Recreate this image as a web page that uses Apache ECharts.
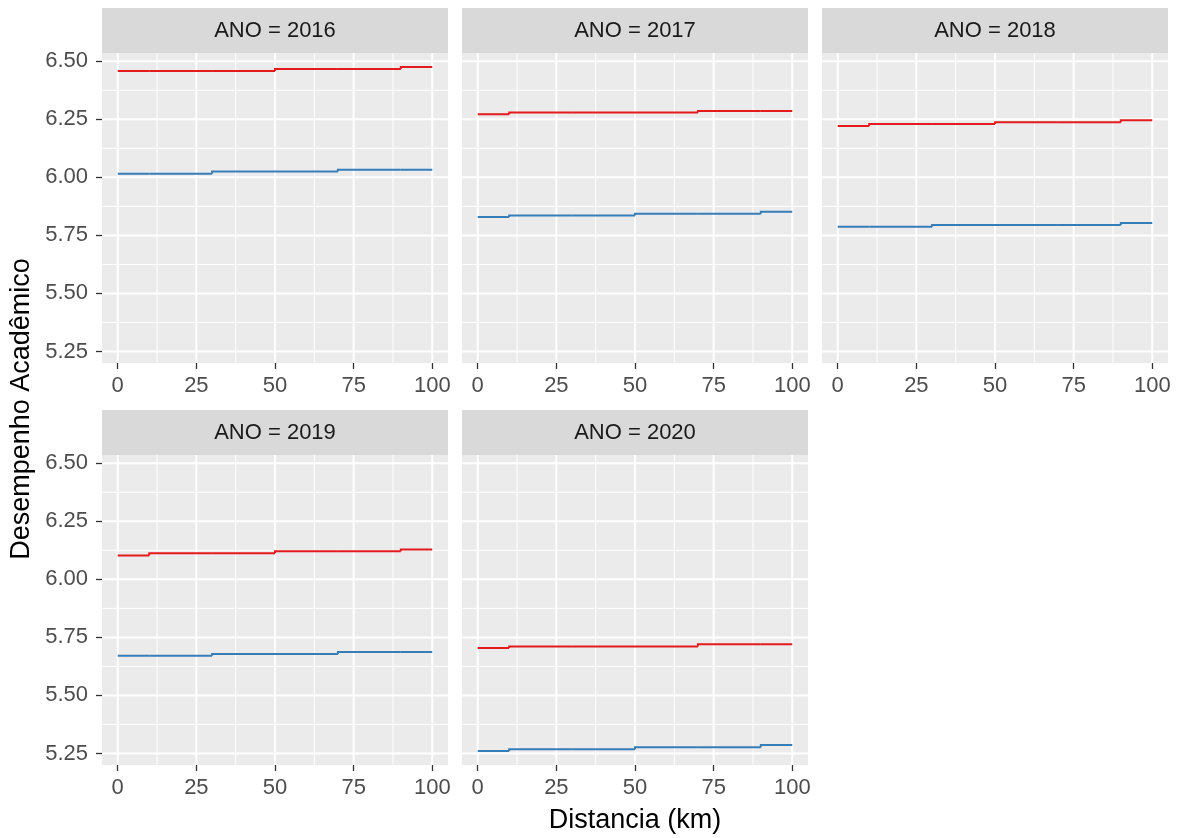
<!DOCTYPE html>
<html>
<head>
<meta charset="utf-8">
<script src="https://cdn.jsdelivr.net/npm/echarts@6/dist/echarts.min.js"></script>
<style>
  html, body { margin: 0; padding: 0; background: #ffffff; }
  #chart { width: 1181px; height: 838px; }
</style>
</head>
<body>
<div id="chart"></div>
<script>
// ---- data ----
const years = ['2016', '2017', '2018', '2019', '2020'];
// distance breaks (km); each group holds one value per band between consecutive breaks
const stepBreaks = [0, 10, 30, 50, 70, 90, 100];
const red2016  = [6.458, 6.458, 6.458, 6.467, 6.467, 6.475];
const blue2016 = [6.016, 6.016, 6.025, 6.025, 6.033, 6.033];
const red2017  = [6.272, 6.279, 6.279, 6.279, 6.286, 6.286];
const blue2017 = [5.829, 5.836, 5.836, 5.843, 5.843, 5.852];
const red2018  = [6.221, 6.230, 6.230, 6.237, 6.237, 6.246];
const blue2018 = [5.787, 5.787, 5.795, 5.795, 5.795, 5.803];
const red2019  = [6.103, 6.113, 6.113, 6.121, 6.121, 6.129];
const blue2019 = [5.671, 5.671, 5.678, 5.678, 5.687, 5.687];
const red2020  = [5.704, 5.711, 5.711, 5.711, 5.720, 5.720];
const blue2020 = [5.261, 5.268, 5.268, 5.277, 5.277, 5.286];
const xTicks = [0, 25, 50, 75, 100];
const yTicks = [5.25, 5.50, 5.75, 6.00, 6.25, 6.50];

const redByYear  = [red2016, red2017, red2018, red2019, red2020];
const blueByYear = [blue2016, blue2017, blue2018, blue2019, blue2020];

// ---- layout ----
const panelLeft = [102, 462, 822, 102, 462];
const panelTop  = [53, 53, 53, 455, 455];
const panelW = 346, panelH = 310, stripH = 45;

const FONT = "'Liberation Sans', Arial, sans-serif";
const RED = '#E41A1C', BLUE = '#377EB8';

// scale limits: data range expanded by 5% on each side
const allVals = redByYear.concat(blueByYear).flat();
const dMin = Math.min(...allVals), dMax = Math.max(...allVals);
const Y_MIN = dMin - 0.05 * (dMax - dMin), Y_MAX = dMax + 0.05 * (dMax - dMin);
const xFirst = stepBreaks[0], xLast = stepBreaks[stepBreaks.length - 1];
const X_MIN = xFirst - 0.05 * (xLast - xFirst);
const X_MAX = xLast + 0.05 * (xLast - xFirst);

function midpoints(arr) {
  const out = [];
  for (let i = 0; i < arr.length - 1; i++) out.push((arr[i] + arr[i + 1]) / 2);
  return out;
}
const xMinor = midpoints(xTicks);
const yMinor = midpoints(yTicks);

// gridline items: [orientation (0 = vertical, 1 = horizontal), value, major flag]
const gridItems = []
  .concat(xMinor.map(v => [0, v, 0]))
  .concat(yMinor.map(v => [1, v, 0]))
  .concat(xTicks.map(v => [0, v, 1]))
  .concat(yTicks.map(v => [1, v, 1]));

// step bands: [start km, end km, band value, value of previous band]
function stepBands(values) {
  return values.map((v, i) => [stepBreaks[i], stepBreaks[i + 1], v, i > 0 ? values[i - 1] : v]);
}

function renderGridLine(params, api) {
  const kind = api.value(0), v = api.value(1), major = api.value(2);
  let p1, p2;
  if (kind === 0) { p1 = api.coord([v, Y_MIN]); p2 = api.coord([v, Y_MAX]); }
  else { p1 = api.coord([X_MIN, v]); p2 = api.coord([X_MAX, v]); }
  return {
    type: 'line',
    silent: true,
    shape: { x1: p1[0], y1: p1[1], x2: p2[0], y2: p2[1] },
    style: { stroke: '#FFFFFF', lineWidth: major ? 2 : 1 }
  };
}

// each band: vertical riser from the previous level, then the flat run
function stepRenderer(color) {
  return function (params, api) {
    const x0 = api.value(0), x1 = api.value(1), v = api.value(2), pv = api.value(3);
    const a = api.coord([x0, pv]), b = api.coord([x0, v]), c = api.coord([x1, v]);
    return {
      type: 'polyline',
      silent: true,
      shape: { points: [a, b, c] },
      style: { stroke: color, lineWidth: 2, fill: null, lineJoin: 'miter', lineCap: 'butt' }
    };
  };
}

const grids = [], xAxes = [], yAxes = [], series = [], graphics = [];

years.forEach((yr, i) => {
  const leftCol = (i === 0 || i === 3);
  grids.push({
    left: panelLeft[i], top: panelTop[i], width: panelW, height: panelH,
    show: true, backgroundColor: '#EBEBEB', borderWidth: 0,
    outerBoundsMode: 'none'
  });
  xAxes.push({
    gridIndex: i, type: 'value', min: X_MIN, max: X_MAX,
    axisLine: { show: false, onZero: false },
    splitLine: { show: false },
    axisTick: { show: true, customValues: xTicks, length: 6, lineStyle: { color: '#333333', width: 1.3 } },
    axisLabel: { show: true, customValues: xTicks, margin: 12, color: '#4D4D4D', fontSize: 22, fontFamily: FONT }
  });
  yAxes.push({
    gridIndex: i, type: 'value', min: Y_MIN, max: Y_MAX,
    axisLine: { show: false, onZero: false },
    splitLine: { show: false },
    axisTick: { show: leftCol, customValues: yTicks, length: 6, lineStyle: { color: '#333333', width: 1.3 } },
    axisLabel: {
      show: leftCol, customValues: yTicks, margin: 14, color: '#4D4D4D', fontSize: 22, fontFamily: FONT,
      formatter: v => Number(v).toFixed(2)
    }
  });
  series.push({
    type: 'custom', xAxisIndex: i, yAxisIndex: i, z: 1, silent: true,
    renderItem: renderGridLine, data: gridItems, animation: false
  });
  series.push({
    name: 'grupo1', type: 'custom', xAxisIndex: i, yAxisIndex: i, z: 3, silent: true,
    encode: { x: [0, 1], y: [2, 3] },
    renderItem: stepRenderer(RED), data: stepBands(redByYear[i]), animation: false
  });
  series.push({
    name: 'grupo2', type: 'custom', xAxisIndex: i, yAxisIndex: i, z: 3, silent: true,
    encode: { x: [0, 1], y: [2, 3] },
    renderItem: stepRenderer(BLUE), data: stepBands(blueByYear[i]), animation: false
  });
  // facet strip
  graphics.push({
    type: 'rect', left: panelLeft[i], top: panelTop[i] - stripH,
    shape: { width: panelW, height: stripH }, style: { fill: '#D9D9D9' }, silent: true
  });
  graphics.push({
    type: 'text', x: panelLeft[i] + panelW / 2, y: panelTop[i] - stripH / 2, silent: true,
    style: { text: 'ANO = ' + yr, fill: '#1A1A1A', font: '22px ' + FONT, align: 'center', verticalAlign: 'middle' }
  });
});

// axis titles
graphics.push({
  type: 'text', x: 635, y: 821, silent: true,
  style: { text: 'Distancia (km)', fill: '#000000', font: '27px ' + FONT, align: 'center', verticalAlign: 'middle' }
});
graphics.push({
  type: 'text', x: 22, y: 409, rotation: Math.PI / 2, silent: true,
  style: { text: 'Desempenho Acadêmico', fill: '#000000', font: '27px ' + FONT, align: 'center', verticalAlign: 'middle' }
});

const chart = echarts.init(document.getElementById('chart'), null, { renderer: 'canvas' });
chart.setOption({
  animation: false,
  backgroundColor: '#FFFFFF',
  grid: grids,
  xAxis: xAxes,
  yAxis: yAxes,
  series: series,
  graphic: graphics
});
</script>
</body>
</html>
